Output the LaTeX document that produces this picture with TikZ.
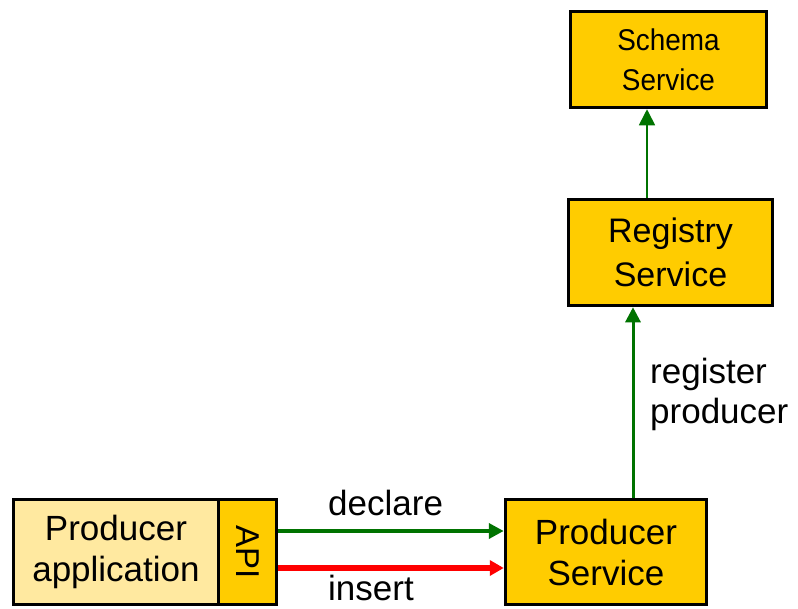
\documentclass[tikz,border=0pt]{standalone}
\usepackage{fontspec}
\setmainfont{Liberation Sans}
\usetikzlibrary{arrows.meta}
\definecolor{gold}{RGB}{255,204,0}
\definecolor{lightgold}{RGB}{255,233,160}
\definecolor{dgreen}{RGB}{0,115,0}
\definecolor{bred}{RGB}{255,0,0}
\newcommand\narrowtxt[1]{\scalebox{0.93}[1]{#1}}
\begin{document}
\begin{tikzpicture}[x=1pt,y=-1pt,
  box/.style={draw=black, line width=3.5pt, fill=gold, inner sep=0pt, align=center, text=black},
  big/.style={font=\fontsize{35}{41}\selectfont},
  lbl/.style={font=\fontsize{35}{40}\selectfont, inner sep=0pt, text=black},
  garrow/.style={draw=dgreen, line width=4pt, -{Triangle[length=15pt,width=15pt]}},
  rarrow/.style={draw=bred, line width=5.5pt, -{Triangle[length=14pt,width=15pt]}}]
\useasboundingbox (0,0) rectangle (798,608);
% boxes
\node[box, font=\fontsize{30}{40}\selectfont, minimum width=196pt, minimum height=96pt] (ss) at (668.5,59.5) {\narrowtxt{Schema}\\\narrowtxt{Service}};
\node[box, font=\fontsize{34}{44}\selectfont, minimum width=204pt, minimum height=106pt] (rs) at (670.5,252.5) {Registry\\Service};
\node[box, big, minimum width=201pt, minimum height=105pt] (ps) at (606,552) {Producer\\Service};
\node[box, big, fill=lightgold, minimum width=205pt, minimum height=105pt] (pa) at (116,552) {Producer\\application};
\node[box, font=\fontsize{33}{40}\selectfont, minimum width=58pt, minimum height=105pt] (api) at (247.5,552) {\rotatebox{-90}{API}};
% connectors
\draw[garrow] (api.east |- 0,531) -- (ps.west |- 0,531);
\draw[rarrow] (api.east |- 0,568) -- (ps.west |- 0,568);
\draw[draw=dgreen, line width=3pt, -{Triangle[length=15pt,width=15pt]}] (ps.north -| 633,0) -- (rs.south -| 633,0);
\draw[draw=dgreen, line width=1.6pt, -{Triangle[length=16pt,width=16pt]}] (rs.north -| 647,0) -- (ss.south -| 647,0);
% labels
\node[lbl, anchor=base west] (ldecl) at (328,515) {declare};
\node[lbl, anchor=base west] (lins) at (328,600) {insert};
\node[lbl, anchor=base west, align=left] (lreg) at (650,423) {register\\producer};
\end{tikzpicture}
\end{document}
